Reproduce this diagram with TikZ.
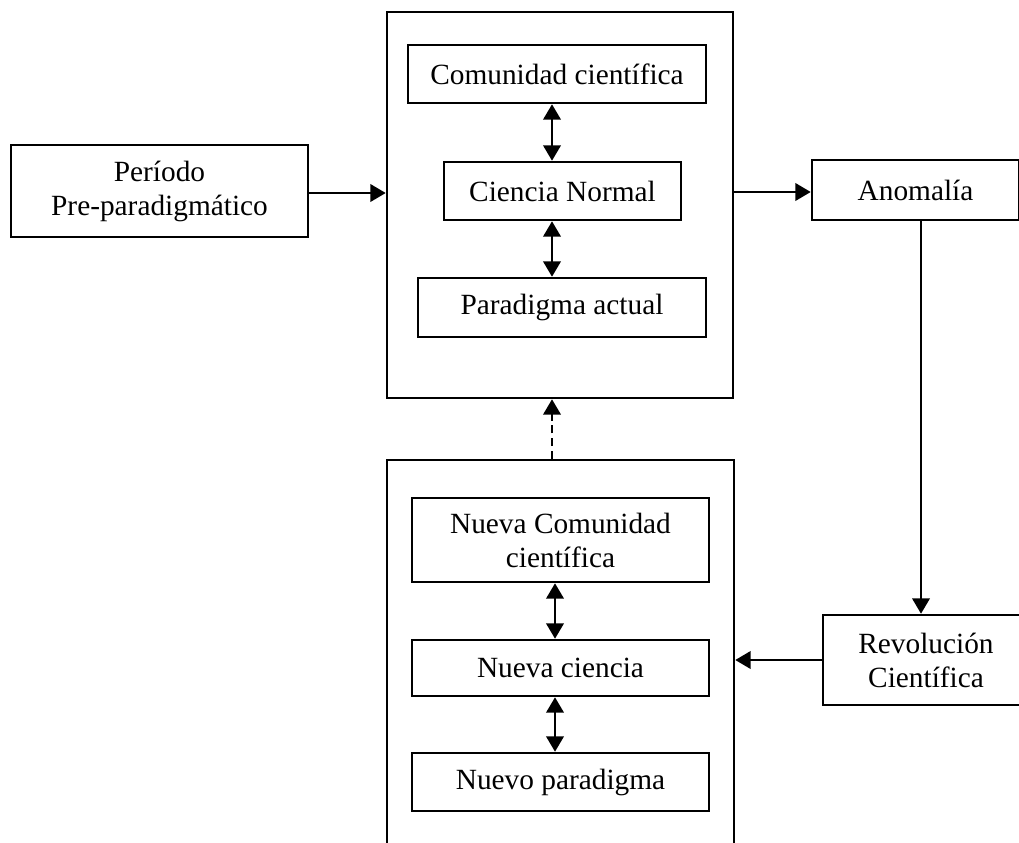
\documentclass[tikz,border=0pt]{standalone}
\usepackage{fontspec}
\setmainfont{Liberation Serif}
\usetikzlibrary{arrows.meta}
\newcommand{\pxu}{0.75pt}
\tikzset{
  rbox/.style={draw, line width=1.9pt, inner sep=0pt, align=center,
    font=\fontsize{22}{25.5}\selectfont},
  tip/.tip={Triangle[length=11.5pt,width=13pt]},
  arr/.style={line width=1.9pt, -tip},
  darr/.style={line width=1.9pt, tip-tip},
  dasharr/.style={line width=1.9pt, -tip, dash pattern=on 6pt off 3.5pt},
}
\begin{document}
\begin{tikzpicture}[x=0.75pt,y=-0.75pt]
\clip (0,0) rectangle (1019,842);

% outer frames
\node[rbox, minimum width=346*\pxu, minimum height=386*\pxu] (top) at (560,205) {};
\node[rbox, minimum width=347*\pxu, minimum height=420*\pxu] (bot) at (560.5,670) {};

% left and right boxes
\node[rbox, minimum width=297*\pxu, minimum height=92*\pxu] (pre) at (159.5,191) {Período\\Pre-paradigmático};
\node[rbox, minimum width=207*\pxu, minimum height=60*\pxu] (anom) at (915.5,190) {Anomalía};
\node[rbox, minimum width=206*\pxu, minimum height=90*\pxu] (rev) at (926,660) {Revolución\\Científica};

% current paradigm block
\node[rbox, minimum width=298*\pxu, minimum height=58*\pxu] (com) at (557,74) {Comunidad científica};
\node[rbox, minimum width=237*\pxu, minimum height=58*\pxu] (cn) at (562.5,191) {Ciencia Normal};
\node[rbox, minimum width=288*\pxu, minimum height=59*\pxu] (par) at (562,307.5) {Paradigma actual};

% new paradigm block
\node[rbox, minimum width=297*\pxu, minimum height=84*\pxu] (ncom) at (560.5,540) {Nueva Comunidad\\científica};
\node[rbox, minimum width=297*\pxu, minimum height=56*\pxu] (ncie) at (560.5,668) {Nueva ciencia};
\node[rbox, minimum width=297*\pxu, minimum height=58*\pxu] (npar) at (560.5,782) {Nuevo paradigma};

% inner two-way links
\draw[darr] (com.south -| 552,0) -- (cn.north -| 552,0);
\draw[darr] (cn.south -| 552,0) -- (par.north -| 552,0);
\draw[darr] (ncom.south -| 555,0) -- (ncie.north -| 555,0);
\draw[darr] (ncie.south -| 555,0) -- (npar.north -| 555,0);

% flow between blocks
\draw[arr] (pre.east |- 0,193) -- (top.west |- 0,193);
\draw[arr] (top.east |- 0,192) -- (anom.west |- 0,192);
\draw[arr] (anom.south -| 921,0) -- (rev.north -| 921,0);
\draw[arr] (rev.west) -- (rev.west -| bot.east);
\draw[dasharr] (bot.north -| 552,0) -- (top.south -| 552,0);
\end{tikzpicture}
\end{document}
